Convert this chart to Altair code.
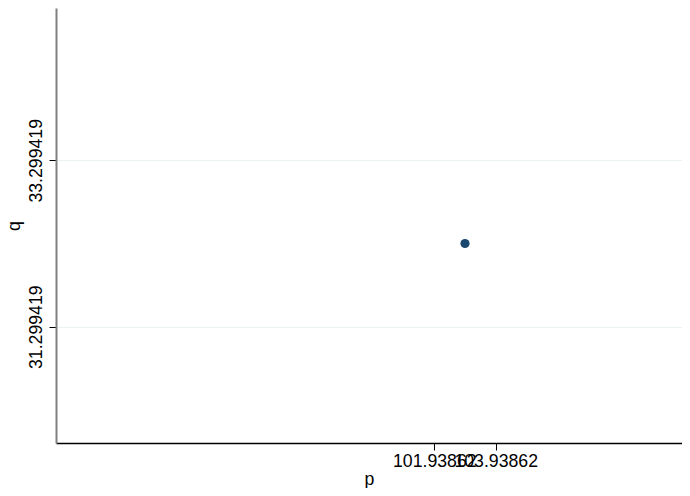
import altair as alt
import pandas as pd

p_vals = [102.93862]
q_vals = [32.299419]
x_ticks = [101.93862, 103.93862]
y_ticks = [31.299419, 33.299419]
x_domain = [89.6164, 110.0068]
y_domain = [29.9016, 35.1299]

df = pd.DataFrame({"p": p_vals, "q": q_vals})

FONT = "Liberation Sans"
FS = 17.7

chart = alt.Chart(df).mark_circle(size=85, color="#1a476f", opacity=1).encode(
    x=alt.X("p:Q", scale=alt.Scale(domain=x_domain, nice=False, zero=False),
            axis=alt.Axis(values=x_ticks, format=".5f", grid=False,
                          domainColor="#000000", domainWidth=1.5,
                          tickColor="#000000", tickSize=7, tickWidth=1,
                          labelFont=FONT, labelFontSize=FS, labelColor="#000000",
                          labelBaseline="alphabetic", labelPadding=16,
                          labelOverlap=False, labelFlush=False,
                          title="p", titleFont=FONT, titleFontSize=FS,
                          titleFontWeight="normal", titleColor="#000000",
                          titleBaseline="alphabetic", titleY=41)),
    y=alt.Y("q:Q", scale=alt.Scale(domain=y_domain, nice=False, zero=False),
            axis=alt.Axis(values=y_ticks, format=".6f", grid=True,
                          gridColor="#eaf2f3", gridWidth=1.2,
                          domainColor="#808080", domainWidth=2,
                          tickColor="#000000", tickSize=7, tickWidth=1,
                          labelFont=FONT, labelFontSize=FS, labelColor="#000000",
                          labelAngle=270, labelAlign="center",
                          labelBaseline="alphabetic", labelPadding=8,
                          labelOverlap=False, labelFlush=False,
                          title="q", titleFont=FONT, titleFontSize=FS,
                          titleFontWeight="normal", titleColor="#000000",
                          titleAngle=270, titleBaseline="alphabetic", titleX=-37)),
).properties(
    width=626, height=435,
    autosize=alt.AutoSizeParams(type="none"),
    padding={"left": 48, "top": 0, "right": 0, "bottom": 45},
    background="white",
).configure_view(stroke=None)

chart.save("out.html", embed_options={"renderer": "svg", "actions": False})
